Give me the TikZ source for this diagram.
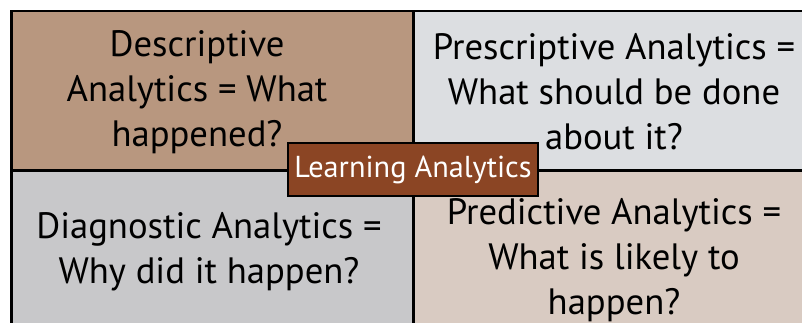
\documentclass[tikz,border=0pt]{standalone}
\usepackage{fontspec}
\setmainfont{PT Sans}
\usetikzlibrary{positioning,calc}
\definecolor{descfill}{HTML}{B8977F}
\definecolor{prescfill}{HTML}{DCDEE1}
\definecolor{diagfill}{HTML}{C8C8CA}
\definecolor{predfill}{HTML}{D9CBC2}
\definecolor{rust}{HTML}{8B4524}
\tikzset{
  quadbox/.style={
    draw=black,
    line width=2.2pt,
    minimum width=301pt,
    inner sep=0pt
  },
  quadtext/.style={
    align=center,
    inner sep=0pt,
    font=\fontsize{27.5}{33.75}\selectfont
  },
  hubbox/.style={
    draw=black,
    line width=1.1pt,
    fill=rust,
    text=white,
    minimum width=187.5pt,
    minimum height=39.75pt,
    inner sep=0pt,
    font=\fontsize{22.7}{26}\selectfont
  }
}

\begin{document}
\begin{tikzpicture}[x=0.75pt,y=-0.75pt]
\clip (0,0) rectangle (802,323);
\fill[white] (0,0) rectangle (802,323);
% the four quadrants
\node[quadbox,fill=descfill,minimum height=119.25pt] (descbox) at (212.5,90.5) {};
\node[quadbox,fill=prescfill,minimum height=119.25pt] (prescbox) at (614,90.5) {};
\node[quadbox,fill=diagfill,minimum height=134.25pt] (diagbox) at (212.5,260.5) {};
\node[quadbox,fill=predfill,minimum height=134.25pt] (predbox) at (614,260.5) {};
% quadrant texts
\node[quadtext] (desc) at (197,92) {Descriptive\\Analytics = What\\happened?};
\node[quadtext] (presc) at (614,92) {Prescriptive Analytics =\\What should be done\\about it?};
\node[quadtext] (diag) at (209,252) {Diagnostic Analytics =\\Why did it happen?};
\node[quadtext] (pred) at (614,260) {Predictive Analytics =\\What is likely to\\happen?};
% label in the middle
\node[hubbox] (hub) at (413,169.5) {Learning Analytics};
\end{tikzpicture}
\end{document}
